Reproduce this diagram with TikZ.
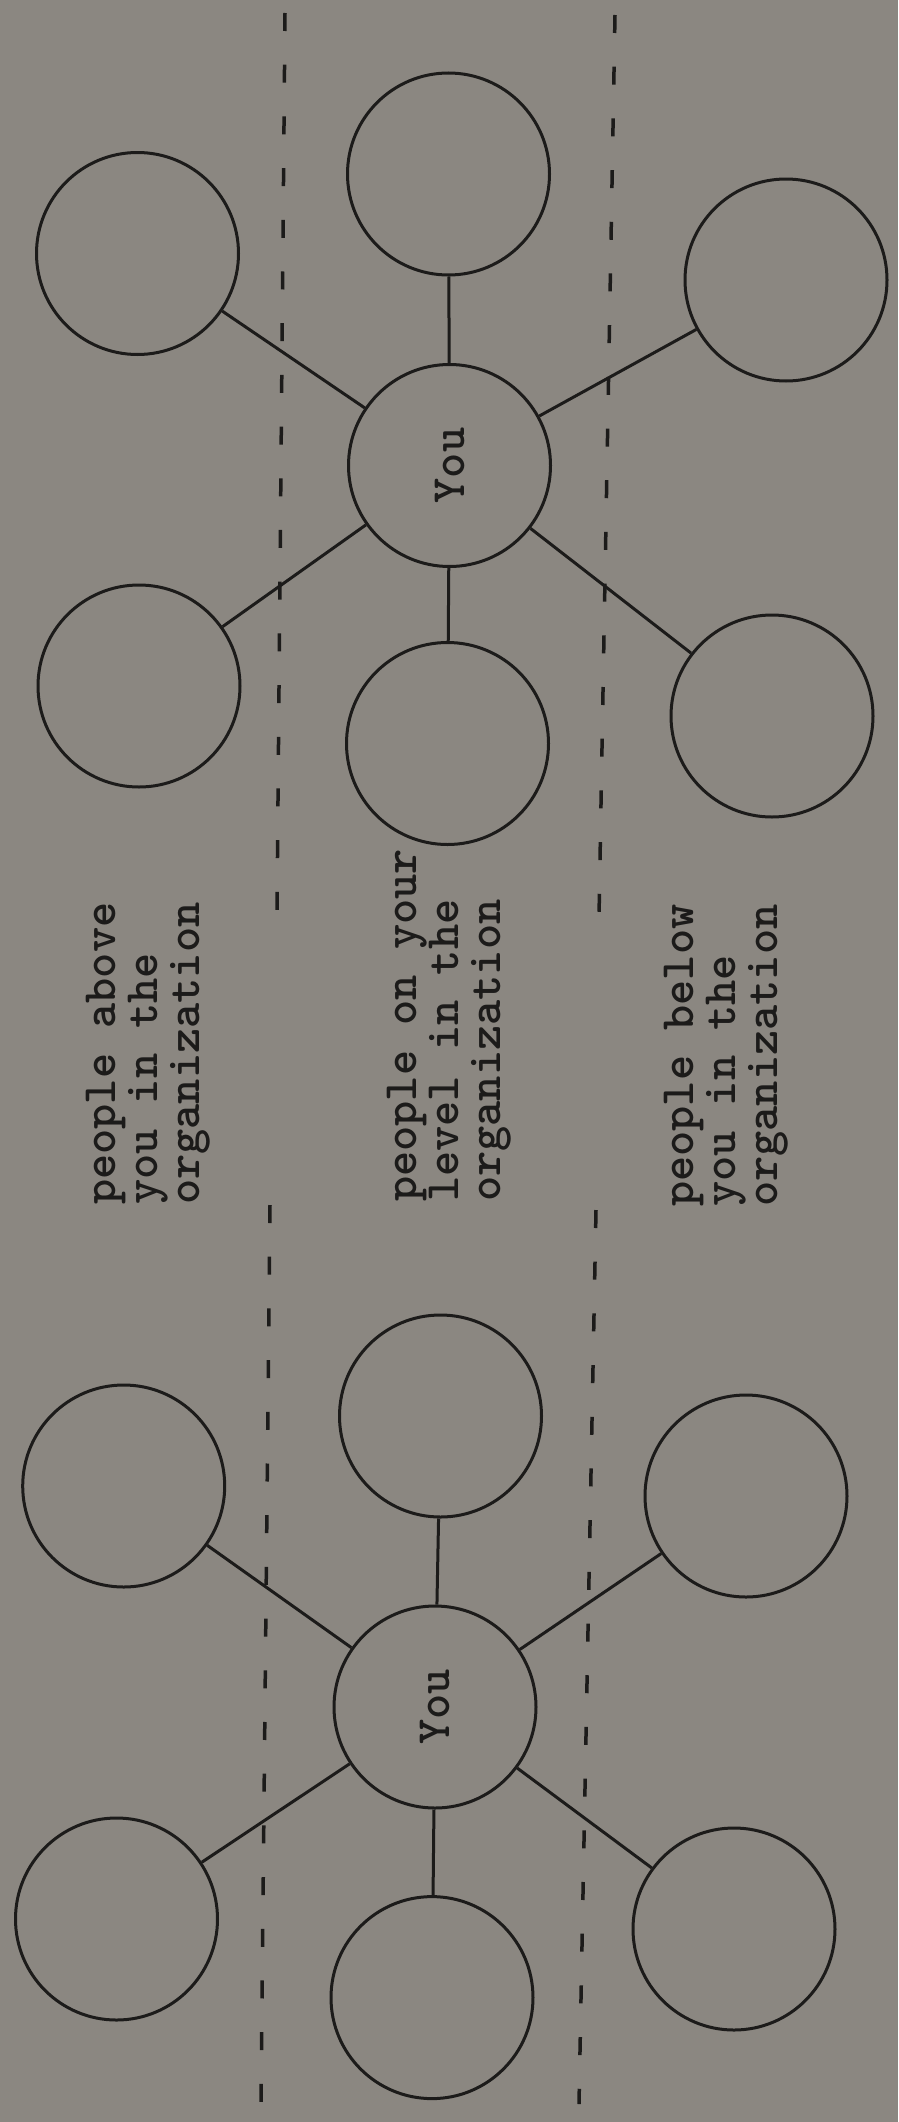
\documentclass[tikz,border=0pt]{standalone}
\usepackage{tikz}

\definecolor{paper}{RGB}{139,135,129}
\definecolor{ink}{RGB}{28,27,26}
\newcommand{\typewr}{\fontsize{48}{42}\selectfont\ttfamily\bfseries}

\tikzset{
  person/.style={circle, draw=ink, line width=3pt, minimum size=202pt, inner sep=0pt, text=ink, font=\typewr},
  tie/.style={draw=ink, line width=3pt},
  divider/.style={draw=ink, line width=3.5pt, dash pattern=on 18pt off 33.7pt},
  levelnote/.style={rotate=90, anchor=north west, align=left, inner sep=0pt, text=ink, font=\typewr}
}

\begin{document}
\begin{tikzpicture}[x=1pt, y=-1pt, line join=round]
    \fill[paper] (0,0) rectangle (898,2122);
    \useasboundingbox (0,0) rectangle (898,2122);
    % dividers
    \coordinate (a-L1) at (285,13);
    \coordinate (a-L2) at (277,913);
    \coordinate (a-R1) at (615,15);
    \coordinate (a-R2) at (599,917);
    \coordinate (b-L1) at (270,1205);
    \coordinate (b-L2) at (261,2102);
    \coordinate (b-R1) at (596,1210);
    \coordinate (b-R2) at (579,2104);
    \draw[divider] (a-L1) -- (a-L2);
    \draw[divider] (a-R1) -- (a-R2);
    \draw[divider] (b-L1) -- (b-L2);
    \draw[divider] (b-R1) -- (b-R2);
    % first chart
    \node[person, rotate=90] (a-you) at (449.5,465.5) {You};
    \node[person] (a-above1) at (137.5,253.5) {};
    \node[person] (a-above2) at (139,686) {};
    \node[person] (a-level1) at (448.5,174) {};
    \node[person] (a-level2) at (447.5,743.5) {};
    \node[person] (a-below1) at (786,280) {};
    \node[person] (a-below2) at (772,716) {};
    \draw[tie] (a-you) -- (a-above1);
    \draw[tie] (a-you) -- (a-above2);
    \draw[tie] (a-you) -- (a-level1);
    \draw[tie] (a-you) -- (a-level2);
    \draw[tie] (a-you) -- (a-below1);
    \draw[tie] (a-you) -- (a-below2);
    % captions
    \node[levelnote] (t-above) at (86,1205) {people above\\you in the\\organization};
    \node[levelnote] (t-level) at (387,1202) {people on your\\level in the\\organization};
    \node[levelnote] (t-below) at (664,1207) {people below\\you in the\\organization};
    % second chart
    \node[person, rotate=90] (b-you) at (435,1707) {You};
    \node[person] (b-above1) at (123.7,1486) {};
    \node[person] (b-above2) at (116.5,1919) {};
    \node[person] (b-level1) at (440.5,1416) {};
    \node[person] (b-level2) at (432,1997.6) {};
    \node[person] (b-below1) at (746,1496) {};
    \node[person] (b-below2) at (734,1929) {};
    \draw[tie] (b-you) -- (b-above1);
    \draw[tie] (b-you) -- (b-above2);
    \draw[tie] (b-you) -- (b-level1);
    \draw[tie] (b-you) -- (b-level2);
    \draw[tie] (b-you) -- (b-below1);
    \draw[tie] (b-you) -- (b-below2);
\end{tikzpicture}
\end{document}
